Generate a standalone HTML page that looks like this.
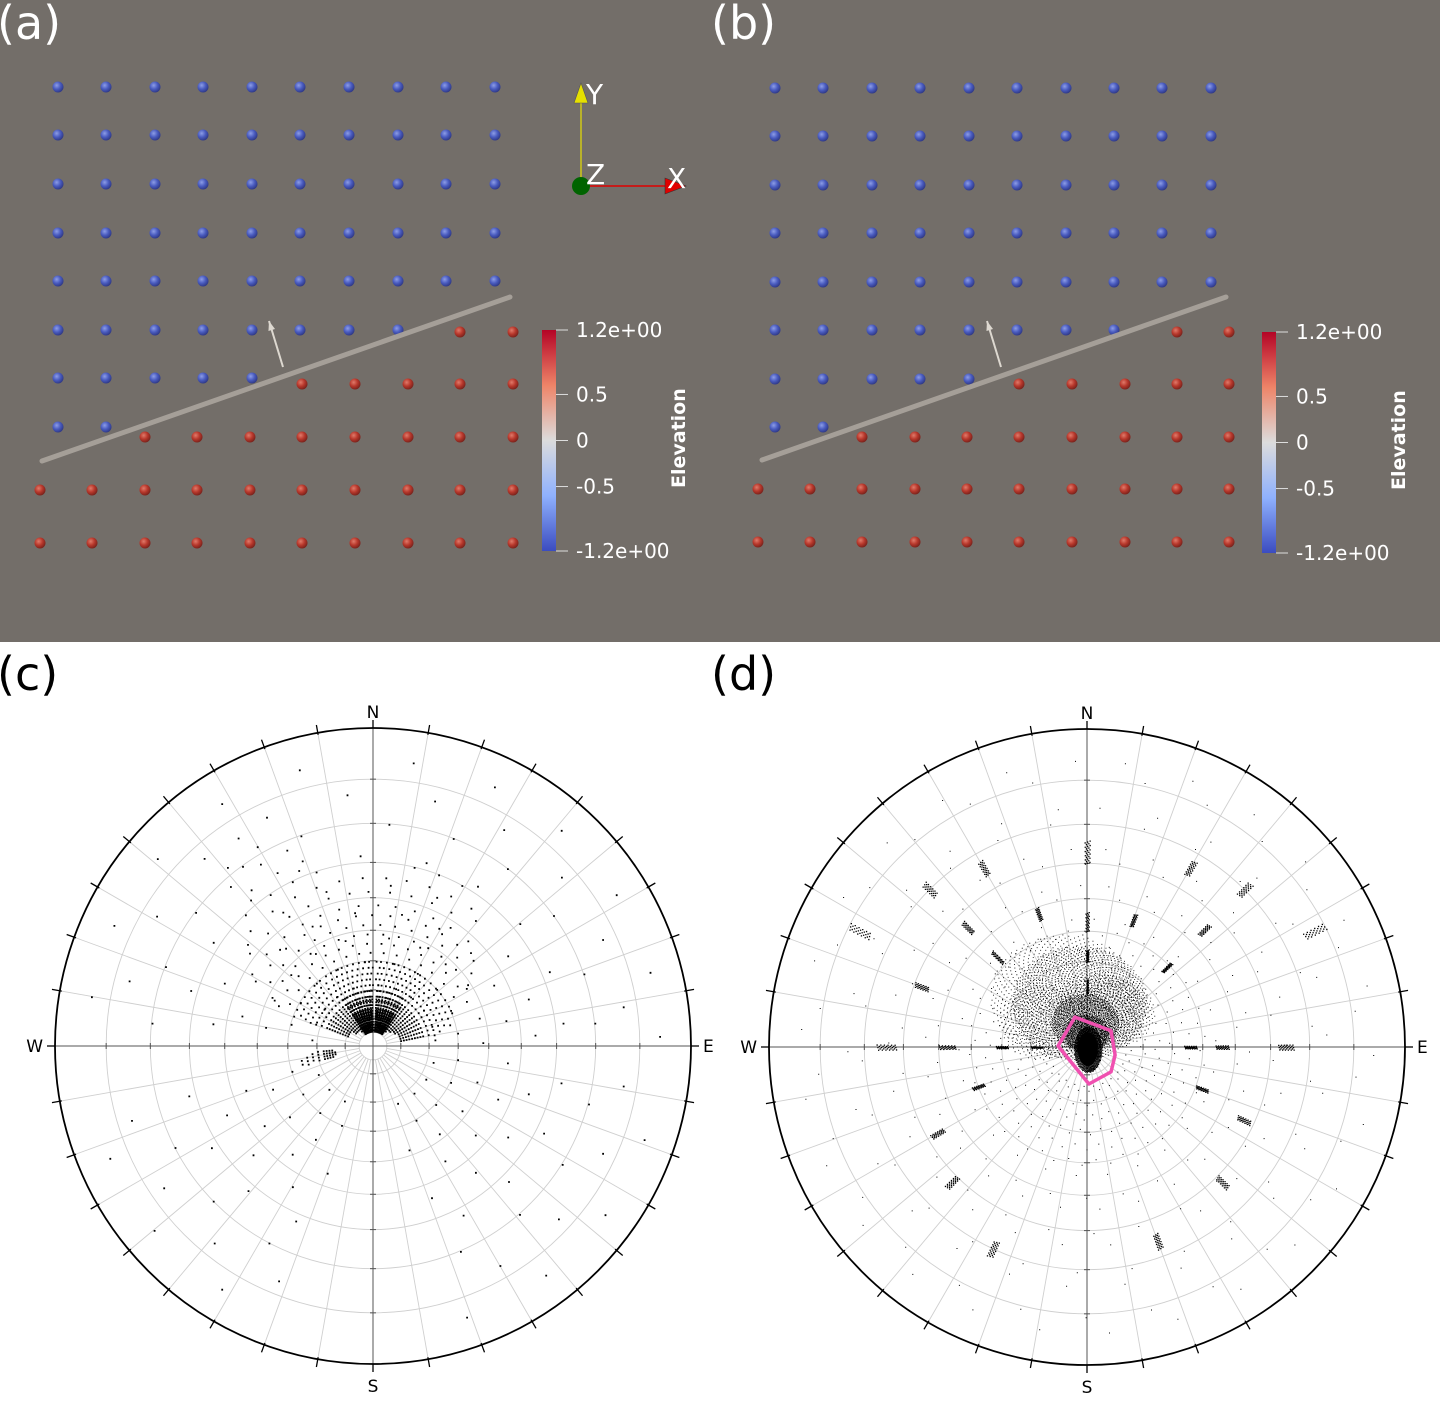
<!DOCTYPE html>
<html><head><meta charset="utf-8"><style>
html,body{margin:0;padding:0;background:#fff}
svg{display:block}
text{font-family:"DejaVu Sans","Liberation Sans",sans-serif}
</style></head><body>
<svg id="fig" width="1440" height="1411" viewBox="0 0 1440 1411" xmlns="http://www.w3.org/2000/svg">
<defs>
<radialGradient id="gBlue" cx="0.38" cy="0.35" r="0.7"><stop offset="0" stop-color="#8d9de6"/><stop offset="0.5" stop-color="#4a5cc0"/><stop offset="1" stop-color="#2c3580"/></radialGradient>
<radialGradient id="gRed" cx="0.38" cy="0.35" r="0.7"><stop offset="0" stop-color="#e07a6a"/><stop offset="0.5" stop-color="#b8382c"/><stop offset="1" stop-color="#72201a"/></radialGradient>
<linearGradient id="cbar" x1="0" y1="0" x2="0" y2="1"><stop offset="0" stop-color="#b40426"/><stop offset="0.25" stop-color="#ee8468"/><stop offset="0.5" stop-color="#dcdcdc"/><stop offset="0.75" stop-color="#8fb1fe"/><stop offset="1" stop-color="#3b4cc0"/></linearGradient>
</defs>
<rect x="0" y="0" width="1440" height="642" fill="#736e69"/>
<text x="-3" y="39" font-size="46" fill="#fff">(a)</text>
<text x="711" y="39" font-size="46" fill="#fff">(b)</text>
<text x="-3" y="690" font-size="46" fill="#000">(c)</text>
<text x="711" y="690" font-size="46" fill="#000">(d)</text>
<g id="panelA"></g>
<g id="panelB"></g>
<g>
<line x1="581" y1="186" x2="581" y2="100" stroke="#e8e000" stroke-width="1.2"/>
<polygon points="581,83 574,103 588,103" fill="#e6e000" stroke="#555" stroke-width="0.6"/>
<line x1="581" y1="186" x2="670" y2="186" stroke="#e00000" stroke-width="1.5"/>
<polygon points="686,186 665,178 665,194" fill="#e00000" stroke="#333" stroke-width="0.6"/>
<circle cx="581" cy="186" r="9" fill="#006400"/>
<text x="586" y="104" font-size="28" fill="#fff">Y</text>
<text x="586" y="184" font-size="28" fill="#fff">Z</text>
<text x="667" y="188" font-size="28" fill="#fff">X</text>
</g>
<g id="netC"></g>
<g id="netD"></g>
</svg>
<script>
// ---------- top panels data ----------
const blueRowsA = [87,135,184,233,281,330,378,427];
const blueColsA = [58,106,155,203,252,300,349,398,446,495];
const blueCountA = [10,10,10,10,10,8,5,2];
const redRowsA = [332,384,437,490,543];
const redColsA = [40,92,145,197,250,302,355,408,460,513];
const redStartA = [8,5,2,0,0];
const blueRowsB = [88,136,185,233,282,330,379,427];
const blueColsB = [775,823,872,920,969,1017,1066,1114,1162,1211];
const blueCountB = [10,10,10,10,10,8,5,2];
const redRowsB = [332,384,437,489,542];
const redColsB = [758,810,862,915,967,1019,1072,1125,1177,1229];
const redStartB = [8,5,2,0,0];
const cbarTicks = ["1.2e+00","0.5","0","-0.5","-1.2e+00"];
const cbarVals = [1.2,0.5,0,-0.5,-1.2];
const NS='http://www.w3.org/2000/svg';
function mk(tag,attrs,parent){const e=document.createElementNS(NS,tag);for(const k in attrs)e.setAttribute(k,attrs[k]);parent.appendChild(e);return e;}
function panel(g,bRows,bCols,bCnt,rRows,rCols,rStart,plane,arrow,cbx,cby){
  bRows.forEach((y,i)=>{for(let j=0;j<bCnt[i];j++){const c=mk('circle',{cx:bCols[j],cy:y,r:5.5,fill:'url(#gBlue)'},g);
    
    }});
  const p=mk('line',{x1:plane[0],y1:plane[1],x2:plane[2],y2:plane[3],stroke:'#a8a29b','stroke-width':5,'stroke-linecap':'round',opacity:0.95},g);
  
  
  rRows.forEach((y,i)=>{for(let j=rStart[i];j<rCols.length;j++){const c=mk('circle',{cx:rCols[j],cy:y,r:5.5,fill:'url(#gRed)'},g);
    
    }});
  const a=mk('line',{x1:arrow[0],y1:arrow[1],x2:arrow[2],y2:arrow[3],stroke:'#ddd8d0','stroke-width':2},g);
  
  
  const ang=Math.atan2(arrow[3]-arrow[1],arrow[2]-arrow[0]);
  const hx=arrow[2],hy=arrow[3];
  mk('polygon',{points:`${hx},${hy} ${hx-10*Math.cos(ang-0.35)},${hy-10*Math.sin(ang-0.35)} ${hx-10*Math.cos(ang+0.35)},${hy-10*Math.sin(ang+0.35)}`,fill:'#ddd8d0'},g);
  const cb=mk('rect',{x:cbx,y:cby,width:14,height:221,fill:'url(#cbar)'},g);
  
  
  cbarVals.forEach((v,i)=>{const y=cby+(1.2-v)/2.4*221;
    mk('line',{x1:cbx+14,y1:y,x2:cbx+26,y2:y,stroke:'#ddd','stroke-width':1},g);
    const t=mk('text',{x:cbx+34,y:y+7,'font-size':20,fill:'#fff','font-weight':'500'},g);t.textContent=cbarTicks[i];
    
    });
  const et=mk('text',{x:0,y:0,'font-size':19,fill:'#fff','font-weight':'bold',transform:`translate(${cbx+143},${cby+158}) rotate(-90)`},g);et.textContent='Elevation';
  
  
}
panel(document.getElementById('panelA'),blueRowsA,blueColsA,blueCountA,redRowsA,redColsA,redStartA,[42,461,510,297],[283,367,269,321],542,330);
panel(document.getElementById('panelB'),blueRowsB,blueColsB,blueCountB,redRowsB,redColsB,redStartB,[762,460,1226,297],[1001,367,987,321],1262,332);

// ---------- stereonet data ----------
const circleThetas = [10,20,30,40,50,60,70,80];
const compassLabels = ["N","E","S","W"];
// panel c: rays (azimuth deg, min/max angular distance from centre)
const raysAzC  = [292,297,302,307,312,317,322,327,331,335,339,343,347,351,355,358,3,6,10,14,18,22,26,30,34,38,43,48,53,58,63,68,73,78,256,259,262,265];
const raysMinC = [10,10,10,8,8,8,7,7,7,6,6,6,6,6,6,6,6,6,6,6,6,6,6,6,7,7,8,8,9,9,10,10,10,10,15,14,14,15];
const raysMaxC = [40,44,50,56,62,70,74,76,74,70,66,62,60,58,58,56,56,58,60,62,62,64,62,60,56,50,48,46,44,40,36,32,28,24,27,26,24,20];
const thetaStepsC = [6,7,8,9,10,11,12,13,14,15,16,17,18,20,22,24,26,28,30,33,36,39,42,45,48,52,56,60,64,68,72,76];
// dense core fans near centre
const coreAzC = [326,329,332,335,338,341,344,347,350,353,356,4,7,10,13,16,19,22,25,28,31,34];
const coreThC = [5.5,6.2,6.9,7.6,8.3,9,9.8,10.6,11.5,12.5,13.5,15,16.5,18,20];
const sparseAzC = [4,12,21,29,37,46,54,63,71,79,84,97,105,113,122,131,139,148,157,200,208,217,226,234,243,251,276,283,291,299,307,316,324,333,341,352];
const sparseThC = [22,30,38,46,54,62,70,77,84];
// panel d
const cloudAzD = [350,355,335,20,300,40,355];
const cloudThD = [16,9,20,14,18,16,5];
const cloudSpreadD = [24,12,26,16,16,14,8];
const cloudCountD = [1600,1100,900,400,350,350,700];
const blobAzD = [160];
const blobThD = [0.8];
const blobCountD = [800];
const streakAzD  = [0,0,0,0,315,315,315,270,270,270,270,90,90,90,45,45,45,63,297,290,240,225,205,160,135,115,20,340,30,330,250,110];
const streakTh0D = [19,30,40,60,41,54,68,16,28,45,62,34,44,62,37,53,68,75,75,56,55,60,68,64,60,55,44,46,64,64,38,40];
const streakTh1D = [24,34,46,66,46,58,72,20,32,50,67,38,48,66,41,57,72,80,80,60,59,64,72,68,64,59,48,50,68,68,42,44];
const bgAzD = [3,10,17,24,31,38,45,52,59,66,73,80,87,94,101,108,115,122,129,136,143,150,157,164,171,178,185,192,199,206,213,220,227,234,241,248,255,262,269,276,283,290,297,304,311,318,325,332,339,346,353];
const bgThD = [14,19,24,29,34,39,44,49,54,59,64,69,74,79,84];
const polyAzD = [338,56,106,136,177,272];
const polyThD = [11.6,10.4,10.5,12.4,13.3,10.4];

const R=318, GOLD=2.399963;
function proj(cx,cy,az,th){const r=R*Math.tan(th*Math.PI/360),a=az*Math.PI/180;return [cx+r*Math.sin(a),cy-r*Math.cos(a)];}
function net(g,cx,cy,innerR){
  circleThetas.forEach(t=>{const c=mk('circle',{cx,cy,r:R*Math.tan(t*Math.PI/360),fill:'none',stroke:'#cfcfcf','stroke-width':0.9},g);
    
    });
  for(let az=0;az<360;az+=10){if(az%90===0)continue;const a=az*Math.PI/180;
    const l=mk('line',{x1:cx+innerR*Math.sin(a),y1:cy-innerR*Math.cos(a),x2:cx+R*Math.sin(a),y2:cy-R*Math.cos(a),stroke:'#cfcfcf','stroke-width':0.9},g);
    
    }
  if(innerR>0){mk('circle',{cx,cy,r:innerR,fill:'#fff',stroke:'#cfcfcf','stroke-width':0.9},g);}
  mk('line',{x1:cx-R,y1:cy,x2:cx+R,y2:cy,stroke:'#555','stroke-width':1},g);
  mk('line',{x1:cx,y1:cy-R,x2:cx,y2:cy+R,stroke:'#555','stroke-width':1},g);
  circleThetas.forEach(t=>{const r=R*Math.tan(t*Math.PI/360);
    [r,-r].forEach(dx=>mk('line',{x1:cx+dx,y1:cy-3,x2:cx+dx,y2:cy+3,stroke:'#555','stroke-width':1},g));
    [r,-r].forEach(dy=>mk('line',{x1:cx-3,y1:cy+dy,x2:cx+3,y2:cy+dy,stroke:'#555','stroke-width':1},g));});
  const rim=mk('circle',{cx,cy,r:R,fill:'none',stroke:'#000','stroke-width':1.8},g);
  
  
  for(let az=0;az<360;az+=10){const a=az*Math.PI/180;const r1=az%90===0?R:R-2,r2=R+8;
    mk('line',{x1:cx+r1*Math.sin(a),y1:cy-r1*Math.cos(a),x2:cx+r2*Math.sin(a),y2:cy-r2*Math.cos(a),stroke:'#000','stroke-width':1.3},g);}
  const pos=[[cx,cy-R-10,'middle'],[cx+R+12,cy+6,'start'],[cx,cy+R+28,'middle'],[cx-R-12,cy+6,'end']];
  compassLabels.forEach((s,i)=>{const t=mk('text',{x:pos[i][0],y:pos[i][1],'font-size':17,fill:'#000','text-anchor':pos[i][2]},g);t.textContent=s;
    
    });
}
function dotPath(g,pts,size,name){let d='';pts.forEach(p=>{d+=`M${p[0].toFixed(1)} ${p[1].toFixed(1)}h${size}v${size}h-${size}z`;});
  const e=mk('path',{d,fill:'#000'},g);
  
  return e;}

// ---- panel c ----
const gC=document.getElementById('netC');const cxC=373,cyC=1046;
net(gC,cxC,cyC,R*Math.tan(5*Math.PI/360));
let ptsC=[];
raysAzC.forEach((az,i)=>{thetaStepsC.forEach((t,j)=>{if(t<raysMinC[i]||t>raysMaxC[i])return;if(t>30&&(i+j)%2)return;
  ptsC.push(proj(cxC,cyC,az+(t>20?((j%3)-1)*1.2:0),t));});});
dotPath(gC,ptsC,1.8,'poles-dense');
let ptsCore=[];
coreAzC.forEach((az,i)=>{coreThC.forEach(t=>{ptsCore.push(proj(cxC,cyC,az,t));});});
dotPath(gC,ptsCore,1.8,'poles-core');
let ptsC2=[];
sparseAzC.forEach((az,i)=>{sparseThC.forEach((t,j)=>{if((i+j)%2)return;ptsC2.push(proj(cxC,cyC,az+(j%3)*2,t));});});
dotPath(gC,ptsC2,1.8,'poles-sparse');

// ---- panel d ----
const gD=document.getElementById('netD');const cxD=1087,cyD=1047;
net(gD,cxD,cyD,0);
let bg=[];
bgAzD.forEach((az,i)=>{bgThD.forEach((t,j)=>{if((i+j)%2&&t>40)return;bg.push(proj(cxD,cyD,az+(j%3)*2.3,t+(i%2)*1.7));});});
dotPath(gD,bg,1,'background-poles');
let cl=[];
cloudAzD.forEach((az,i)=>{const c=proj(cxD,cyD,az,cloudThD[i]);const s=R*Math.tan(cloudSpreadD[i]*Math.PI/360);const n=cloudCountD[i];
  for(let k=0;k<n;k++){const rr=s*Math.sqrt((k+0.5)/n),a=k*GOLD;cl.push([c[0]+rr*Math.cos(a),c[1]+rr*Math.sin(a)*0.85]);}});
dotPath(gD,cl,0.9,'pole-cloud');
let bl=[];
blobAzD.forEach((az,i)=>{const c=proj(cxD,cyD,az,blobThD[i]);const n=blobCountD[i];
  const e=mk('ellipse',{cx:c[0],cy:c[1],rx:10,ry:17,fill:'#000'},gD);
  
  
  for(let k=0;k<n;k++){const f=Math.sqrt((k+0.5)/n),a=k*GOLD;bl.push([c[0]+14*f*Math.cos(a),c[1]+23*f*Math.sin(a)]);}});
dotPath(gD,bl,1.1,'blob-poles');
let st=[];
streakAzD.forEach((az,i)=>{for(let k=0;k<28;k++){const f=k/27;const t=streakTh0D[i]+(streakTh1D[i]-streakTh0D[i])*f;
  const p=proj(cxD,cyD,az+((k*7)%5-2)*0.35,t);st.push(p);}});
dotPath(gD,st,1.3,'pole-streaks');
let poly='';polyAzD.forEach((az,i)=>{const p=proj(cxD,cyD,az,polyThD[i]);poly+=p[0].toFixed(1)+','+p[1].toFixed(1)+' ';});
const pg=mk('polygon',{points:poly,fill:'none',stroke:'#f050b0','stroke-width':3.5,'stroke-linejoin':'round'},gD);


</script>
</body></html>
